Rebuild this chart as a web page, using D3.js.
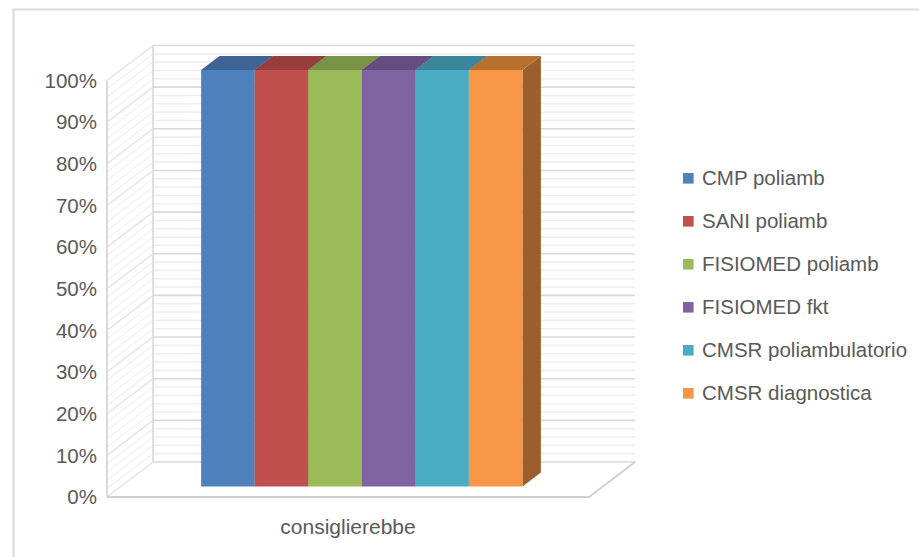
<!DOCTYPE html>
<html>
<head>
<meta charset="utf-8">
<script src="https://cdn.jsdelivr.net/npm/d3@7"></script>
<style>
body{margin:0;background:#fff;}
text{font-family:"Liberation Sans",Arial,sans-serif;fill:#595959;}
</style>
</head>
<body>
<svg id="chart" width="919" height="557"></svg>
<script>
// data
const categories=['consiglierebbe'];
const series=['CMP poliamb','SANI poliamb','FISIOMED poliamb','FISIOMED fkt','CMSR poliambulatorio','CMSR diagnostica'];
const values=[1,1,1,1,1,1];
const yTicks=[0,0.1,0.2,0.3,0.4,0.5,0.6,0.7,0.8,0.9,1];
const colors=['#4f81bd','#c0504d','#9bbb59','#8064a2','#4bacc6','#f79646'];
const topColors=['#3d6494','#963e3c','#789246','#644e7f','#3a879b','#b8702f'];
const sideColor='#9c5e2a';

const svg=d3.select('#chart');

// outer frame (runs off the right and bottom edge)
svg.append('rect').attr('x',13.5).attr('y',9.5).attr('width',1000).attr('height',600)
  .attr('fill','none').attr('stroke','#d9d9d9').attr('stroke-width',2);

// 3d geometry: front plane + depth vector
const left=107,right=589,depthX=46,depthY=-35;
const y=d3.scaleLinear().domain([0,1]).range([497,80.5]);
const x0=d3.scaleBand().domain(categories).range([left,right]);
const x1=d3.scaleBand().domain(series).range([0,x0.bandwidth()]).paddingOuter(1.5);

const grid=svg.append('g');
// minor gridlines every 2%
const minor=d3.range(0,101,2).map(d=>d/100);
minor.forEach(v=>{
  const major=Math.round(v*100)%10===0;
  const col=major?'#d9d9d9':'#efefef';
  // back wall
  grid.append('line').attr('x1',left+depthX).attr('x2',right+depthX)
    .attr('y1',y(v)+depthY).attr('y2',y(v)+depthY)
    .attr('stroke',col).attr('stroke-width',1.6);
  // side wall
  grid.append('line').attr('x1',left).attr('x2',left+depthX)
    .attr('y1',y(v)).attr('y2',y(v)+depthY)
    .attr('stroke',major?'#e3e3e3':'#f2f2f2').attr('stroke-width',1.4);
});
// wall edges
grid.append('line').attr('x1',left+depthX).attr('x2',left+depthX)
  .attr('y1',y(1)+depthY).attr('y2',y(0)+depthY).attr('stroke','#d9d9d9').attr('stroke-width',1.6);
grid.append('line').attr('x1',left).attr('x2',left)
  .attr('y1',y(1)).attr('y2',y(0)).attr('stroke','#d9d9d9').attr('stroke-width',2);
// floor
grid.append('path')
  .attr('d',`M${left},${y(0)}L${right},${y(0)}L${right+depthX},${y(0)+depthY}`)
  .attr('fill','none').attr('stroke','#d0d0d0').attr('stroke-width',2);

// bars
const d0=0.3,d1=0.7;
const bars=svg.append('g');
series.forEach((s,i)=>{
  const xa=x0(categories[0])+x1(s)+d0*depthX;
  const xb=xa+x1.bandwidth();
  const yt=y(values[i])+d0*depthY;
  const yb=y(0)+d0*depthY;
  const ddx=(d1-d0)*depthX,ddy=(d1-d0)*depthY;
  // side
  bars.append('path').attr('d',`M${xb},${yt}L${xb+ddx},${yt+ddy}L${xb+ddx},${yb+ddy}L${xb},${yb}Z`)
    .attr('fill',sideColor);
  // top
  bars.append('path').attr('d',`M${xa},${yt}L${xb},${yt}L${xb+ddx},${yt+ddy}L${xa+ddx},${yt+ddy}Z`)
    .attr('fill',topColors[i]);
  // front
  bars.append('rect').attr('x',xa).attr('y',yt).attr('width',xb-xa).attr('height',yb-yt)
    .attr('fill',colors[i]);
});

// y axis labels
svg.append('g').selectAll('text').data(yTicks).join('text')
  .attr('x',97).attr('y',d=>y(d)).attr('dy','0.35em')
  .attr('text-anchor','end').style('font-size','20.5px')
  .text(d3.format('.0%'));

// category label
svg.append('text').attr('x',x0(categories[0])+x0.bandwidth()/2).attr('y',534)
  .attr('text-anchor','middle').style('font-size','21px').text(categories[0]);

// legend
const lg=svg.append('g').selectAll('g').data(series).join('g')
  .attr('transform',(d,i)=>`translate(683,${178.3+i*43})`);
lg.append('rect').attr('x',0).attr('y',-5.3).attr('width',10.6).attr('height',10.6)
  .attr('fill',(d,i)=>colors[i]);
lg.append('text').attr('x',19).attr('y',0).attr('dy','0.35em')
  .style('font-size','20.5px').text(d=>d);
</script>
</body>
</html>
